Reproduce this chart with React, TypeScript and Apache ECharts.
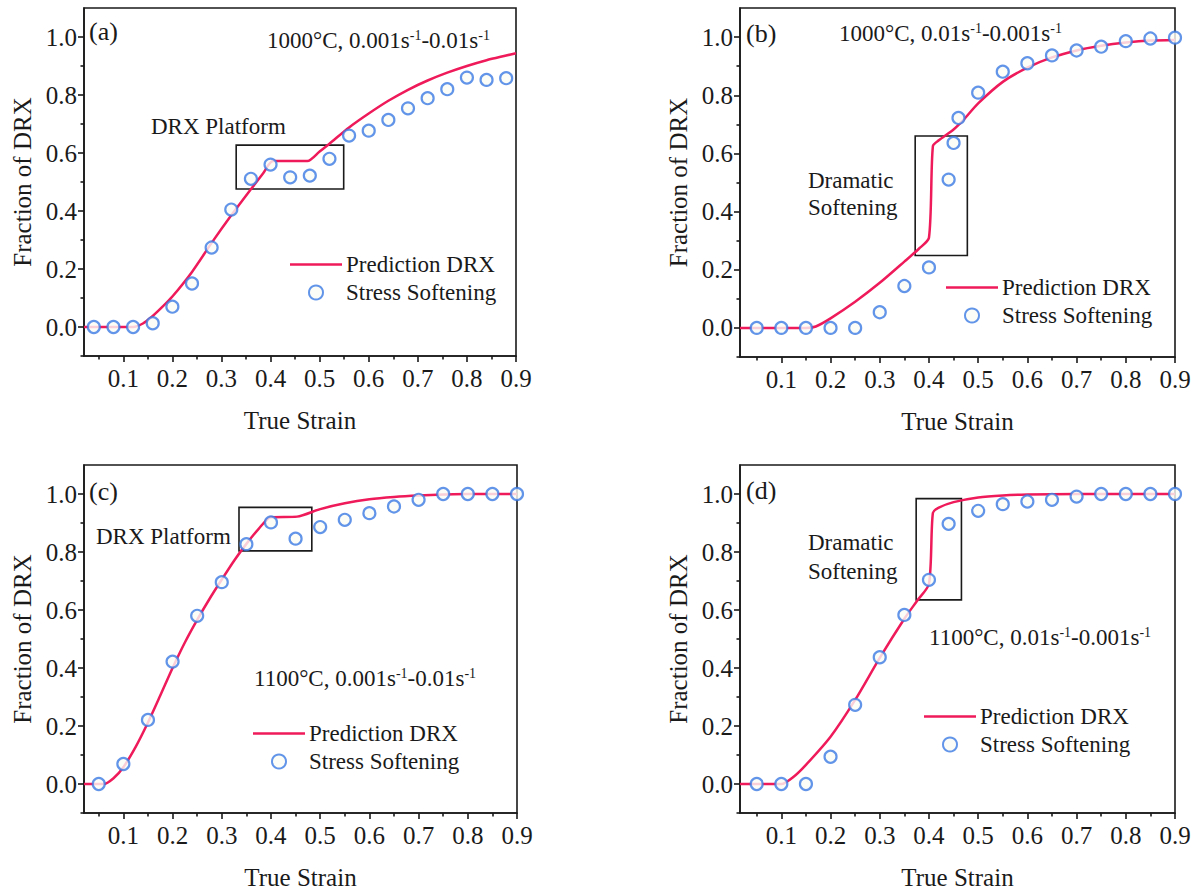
import React, { useEffect, useRef } from "react";
import * as echarts from "echarts";

// ---------- data ----------
// (a) 1000°C, 0.001 -> 0.01 s^-1
const strainSoftA = [0.04, 0.08, 0.12, 0.16, 0.2, 0.24, 0.28, 0.32, 0.36, 0.4, 0.44, 0.48, 0.52, 0.56, 0.6, 0.64, 0.68, 0.72, 0.76, 0.8, 0.84, 0.88];
const softA = [0, 0, 0, 0.013, 0.07, 0.15, 0.274, 0.405, 0.511, 0.56, 0.516, 0.522, 0.58, 0.66, 0.677, 0.714, 0.754, 0.789, 0.82, 0.86, 0.852, 0.858];
const strainPredA = [0.02, 0.12, 0.14, 0.16, 0.18, 0.2, 0.24, 0.28, 0.32, 0.36, 0.385, 0.405, 0.475, 0.5, 0.52, 0.56, 0.6, 0.64, 0.68, 0.72, 0.76, 0.8, 0.84, 0.88, 0.9];
const predA = [0, 0, 0.012, 0.038, 0.07, 0.105, 0.19, 0.29, 0.385, 0.475, 0.53, 0.572, 0.572, 0.605, 0.632, 0.688, 0.736, 0.78, 0.818, 0.85, 0.877, 0.9, 0.92, 0.936, 0.944];

// (b) 1000°C, 0.01 -> 0.001 s^-1
const strainSoftB = [0.05, 0.1, 0.15, 0.2, 0.25, 0.3, 0.35, 0.4, 0.44, 0.45, 0.46, 0.5, 0.55, 0.6, 0.65, 0.7, 0.75, 0.8, 0.85, 0.9];
const softB = [0, 0, 0, 0, 0, 0.054, 0.144, 0.208, 0.51, 0.636, 0.722, 0.809, 0.881, 0.91, 0.937, 0.954, 0.967, 0.986, 0.995, 0.998];
const strainPredB = [0.016, 0.15, 0.17, 0.2, 0.25, 0.3, 0.35, 0.38, 0.4, 0.408, 0.42, 0.45, 0.47, 0.5, 0.55, 0.6, 0.65, 0.7, 0.75, 0.8, 0.85, 0.9];
const predB = [0, 0, 0.005, 0.033, 0.09, 0.155, 0.228, 0.273, 0.31, 0.625, 0.645, 0.682, 0.715, 0.772, 0.846, 0.895, 0.93, 0.954, 0.97, 0.981, 0.988, 0.99];

// (c) 1100°C, 0.001 -> 0.01 s^-1
const strainSoftC = [0.05, 0.1, 0.15, 0.2, 0.25, 0.3, 0.35, 0.4, 0.45, 0.5, 0.55, 0.6, 0.65, 0.7, 0.75, 0.8, 0.85, 0.9];
const softC = [0, 0.069, 0.221, 0.422, 0.58, 0.696, 0.827, 0.902, 0.846, 0.886, 0.911, 0.934, 0.957, 0.98, 1.0, 1.0, 1.0, 1.0];
const strainPredC = [0.02, 0.06, 0.08, 0.1, 0.125, 0.15, 0.175, 0.2, 0.225, 0.25, 0.275, 0.3, 0.325, 0.35, 0.375, 0.4, 0.453, 0.5, 0.55, 0.6, 0.65, 0.7, 0.75, 0.8, 0.9];
const predC = [0, 0, 0.02, 0.058, 0.128, 0.212, 0.305, 0.4, 0.488, 0.566, 0.638, 0.705, 0.77, 0.828, 0.88, 0.92, 0.922, 0.948, 0.968, 0.982, 0.99, 0.995, 0.998, 1.0, 1.0];

// (d) 1100°C, 0.01 -> 0.001 s^-1
const strainSoftD = [0.05, 0.1, 0.15, 0.2, 0.25, 0.3, 0.35, 0.4, 0.44, 0.5, 0.55, 0.6, 0.65, 0.7, 0.75, 0.8, 0.85, 0.9];
const softD = [0, 0, 0, 0.094, 0.273, 0.437, 0.583, 0.704, 0.897, 0.942, 0.965, 0.974, 0.98, 0.991, 1.0, 1.0, 1.0, 1.0];
const strainPredD = [0.016, 0.1, 0.125, 0.15, 0.2, 0.25, 0.3, 0.35, 0.376, 0.4, 0.408, 0.42, 0.45, 0.5, 0.55, 0.6, 0.7, 0.9];
const predD = [0, 0, 0.025, 0.066, 0.163, 0.29, 0.435, 0.57, 0.632, 0.69, 0.935, 0.953, 0.972, 0.988, 0.995, 0.998, 1.0, 1.0];

// highlight boxes [x1, y1, x2, y2] in data units
const boxA = [0.33, 0.627, 0.549, 0.476];
const boxB = [0.372, 0.66, 0.478, 0.249];
const boxC = [0.335, 0.954, 0.483, 0.804];
const boxD = [0.374, 0.984, 0.466, 0.635];

// tick values
const xMajor = [0.1, 0.2, 0.3, 0.4, 0.5, 0.6, 0.7, 0.8, 0.9];
const xMinor = [0.05, 0.15, 0.25, 0.35, 0.45, 0.55, 0.65, 0.75, 0.85];
const yMajor = [0.0, 0.2, 0.4, 0.6, 0.8, 1.0];
const yMinor = [-0.1, 0.1, 0.3, 0.5, 0.7, 0.9];

const LINE_NAME = "Prediction DRX";
const SCATTER_NAME = "Stress Softening";

// ---------- styles ----------
const FONT = "'Liberation Serif', 'Times New Roman', serif";
const INK = "#1a1a1a";
const RED = "#EE1A5A";
const BLUE = "#3B7BE3";

const zip = (xs: number[], ys: number[]) => xs.map((x, i) => [x, ys[i]]);

type Panel = {
  grid: { left: number; top: number; width: number; height: number };
  xmin: number;
  softX: number[];
  soft: number[];
  predX: number[];
  pred: number[];
  box: number[];
  legend: { left: number; top: number; itemWidth: number };
};

const panels: Panel[] = [
  {
    grid: { left: 84, top: 8, width: 432, height: 348 },
    xmin: 0.02,
    softX: strainSoftA, soft: softA, predX: strainPredA, pred: predA, box: boxA,
    legend: { left: 290, top: 253, itemWidth: 52 },
  },
  {
    grid: { left: 740, top: 8, width: 435, height: 349 },
    xmin: 0.016,
    softX: strainSoftB, soft: softB, predX: strainPredB, pred: predB, box: boxB,
    legend: { left: 946, top: 276, itemWidth: 52 },
  },
  {
    grid: { left: 84, top: 465, width: 433, height: 348 },
    xmin: 0.02,
    softX: strainSoftC, soft: softC, predX: strainPredC, pred: predC, box: boxC,
    legend: { left: 253, top: 722, itemWidth: 52 },
  },
  {
    grid: { left: 740, top: 465, width: 435, height: 348 },
    xmin: 0.016,
    softX: strainSoftD, soft: softD, predX: strainPredD, pred: predD, box: boxD,
    legend: { left: 924, top: 705, itemWidth: 52 },
  },
];

const tickStyle = { color: INK, width: 1.6 };
const labelStyle = { fontFamily: FONT, fontSize: 25, color: INK };
const nameStyle = { fontFamily: FONT, fontSize: 25, color: INK };

function buildOption() {
  const grid: any[] = [];
  const xAxis: any[] = [];
  const yAxis: any[] = [];
  const series: any[] = [];
  const legend: any[] = [];

  panels.forEach((p, i) => {
    grid.push({
      ...p.grid,
      show: true,
      borderColor: INK,
      borderWidth: 1.6,
      backgroundColor: "transparent",
      containLabel: false,
    });
    xAxis.push({
      gridIndex: i,
      type: "value",
      position: "bottom",
      min: p.xmin,
      max: 0.9,
      name: "True Strain",
      nameLocation: "middle",
      nameGap: 52,
      nameTextStyle: nameStyle,
      axisLine: { show: true, onZero: false, lineStyle: tickStyle },
      axisTick: { show: true, inside: false, length: 6, customValues: xMajor, lineStyle: tickStyle },
      axisLabel: { customValues: xMajor, margin: 10, formatter: (v: number) => v.toFixed(1), ...labelStyle },
      splitLine: { show: false },
    });
    xAxis.push({
      gridIndex: i,
      type: "value",
      position: "bottom",
      min: p.xmin,
      max: 0.9,
      axisLine: { show: false, onZero: false },
      axisTick: { show: true, inside: false, length: 3.5, customValues: xMinor, lineStyle: tickStyle },
      axisLabel: { show: false },
      splitLine: { show: false },
    });
    yAxis.push({
      gridIndex: i,
      type: "value",
      position: "left",
      min: -0.1,
      max: 1.1,
      name: "Fraction of DRX",
      nameLocation: "middle",
      nameGap: 49,
      nameTextStyle: nameStyle,
      axisLine: { show: true, onZero: false, lineStyle: tickStyle },
      axisTick: { show: true, inside: false, length: 6, customValues: yMajor, lineStyle: tickStyle },
      axisLabel: { customValues: yMajor, margin: 7, formatter: (v: number) => v.toFixed(1), ...labelStyle },
      splitLine: { show: false },
    });
    yAxis.push({
      gridIndex: i,
      type: "value",
      position: "left",
      min: -0.1,
      max: 1.1,
      axisLine: { show: false, onZero: false },
      axisTick: { show: true, inside: false, length: 3.5, customValues: yMinor, lineStyle: tickStyle },
      axisLabel: { show: false },
      splitLine: { show: false },
    });

    series.push({
      type: "line",
      name: LINE_NAME,
      xAxisIndex: 2 * i,
      yAxisIndex: 2 * i,
      data: zip(p.predX, p.pred),
      symbol: "none",
      smooth: 0.25,
      lineStyle: { color: RED, width: 2.5 },
      itemStyle: { color: RED },
      z: 2,
      markArea: {
        silent: true,
        itemStyle: { color: "rgba(0,0,0,0)", borderColor: INK, borderWidth: 1.6 },
        label: { show: false },
        data: [[{ xAxis: p.box[0], yAxis: p.box[1] }, { xAxis: p.box[2], yAxis: p.box[3] }]],
      },
    });
    series.push({
      type: "scatter",
      name: SCATTER_NAME,
      xAxisIndex: 2 * i,
      yAxisIndex: 2 * i,
      data: zip(p.softX, p.soft),
      symbol: "circle",
      symbolSize: 12,
      itemStyle: { color: "#fdfdf6", borderColor: BLUE, borderWidth: 2.2 },
      z: 3,
    });

    legend.push({
      show: true,
      orient: "vertical",
      left: p.legend.left,
      top: p.legend.top,
      itemWidth: p.legend.itemWidth,
      itemHeight: 14,
      itemGap: 5,
      padding: 0,
      selectedMode: false,
      data: [
        { name: LINE_NAME, icon: "path://M0,0 L52,0 L52,2.6 L0,2.6 Z" },
        { name: SCATTER_NAME },
      ],
      textStyle: { fontFamily: FONT, fontSize: 23, color: INK, lineHeight: 23, padding: [0, 0, 0, -1] },
    });
  });

  const sup = { fontSize: 14, fontFamily: FONT, fill: INK, verticalAlign: "top" };
  const txt = (text: string, x: number, y: number, size = 23, rich = false) => ({
    type: "text",
    x,
    y,
    silent: true,
    style: {
      text,
      fontFamily: FONT,
      fontSize: size,
      fill: INK,
      textAlign: "left",
      textVerticalAlign: "middle",
      ...(rich ? { rich: { sup, n: { fontSize: size, fontFamily: FONT, fill: INK } } } : {}),
    },
  });

  const graphic = [
    txt("(a)", 89, 31, 26),
    txt("(b)", 746, 33, 26),
    txt("(c)", 89, 491, 26),
    txt("(d)", 746, 490, 26),
    txt("{n|1000°C, 0.001s}{sup|-1}{n|-0.01s}{sup|-1}", 267, 40, 23, true),
    txt("{n|1000°C, 0.01s}{sup|-1}{n|-0.001s}{sup|-1}", 839, 33, 23, true),
    txt("{n|1100°C, 0.001s}{sup|-1}{n|-0.01s}{sup|-1}", 254, 678, 23, true),
    txt("{n|1100°C, 0.01s}{sup|-1}{n|-0.001s}{sup|-1}", 929, 637, 23, true),
    txt("DRX Platform", 151, 126),
    txt("DRX Platform", 96, 536),
    txt("Dramatic", 808, 180),
    txt("Softening", 808, 207),
    txt("Dramatic", 808, 542),
    txt("Softening", 808, 571),
  ];

  return {
    animation: false,
    backgroundColor: "#ffffff",
    textStyle: { fontFamily: FONT },
    grid,
    xAxis,
    yAxis,
    series,
    legend,
    graphic,
  };
}

export default function App() {
  const ref = useRef<HTMLDivElement>(null);
  useEffect(() => {
    if (!ref.current) return;
    const chart = echarts.init(ref.current, undefined, { renderer: "svg" });
    chart.setOption(buildOption() as any);
    return () => chart.dispose();
  }, []);
  return (
    <div
      ref={ref}
      style={{ position: "absolute", left: 0, top: 0, width: 1200, height: 892, background: "#fff" }}
    />
  );
}
